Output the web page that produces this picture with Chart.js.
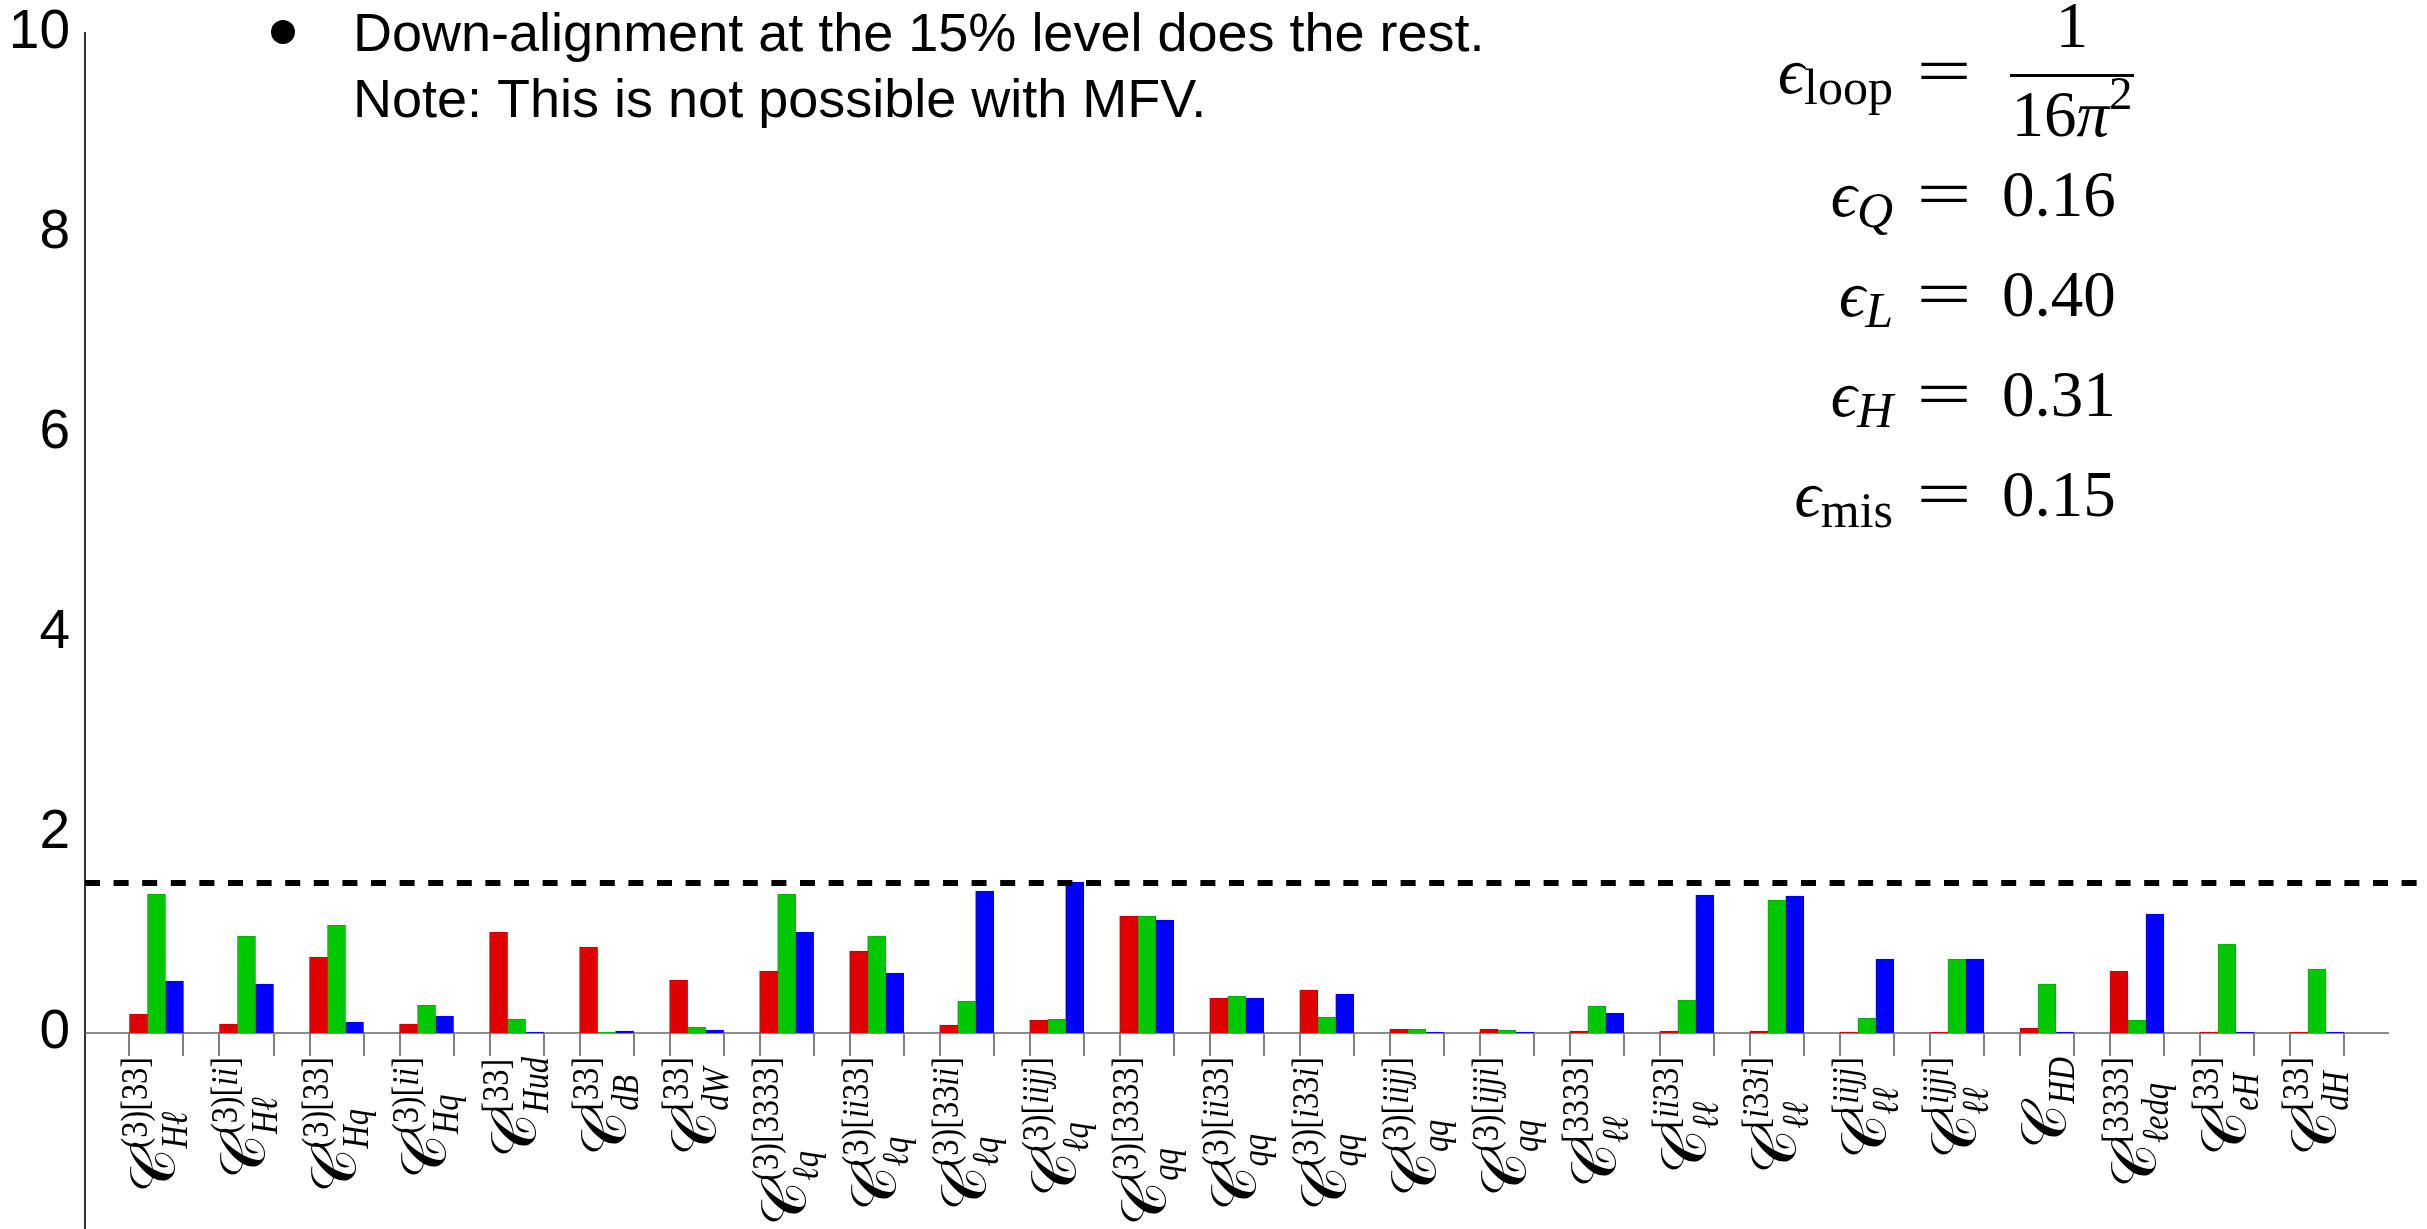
<!DOCTYPE html>
<html>
<head>
<meta charset="utf-8">
<script src="https://cdn.jsdelivr.net/npm/chart.js@4.4.1/dist/chart.umd.min.js"></script>
<style>
    html, body { margin: 0; padding: 0; background: #fff; overflow: hidden; }
    #wrap { position: relative; width: 2427px; height: 1229px; overflow: hidden; }
    #myChart { position: absolute; left: 0; top: 0; }
</style>
</head>
<body>
<div id="wrap"><canvas id="myChart" width="2427" height="1233"></canvas></div>
<script>
// operator labels: superscript and subscript of each C
const categorySup = ['(3)[33]', '(3)[ii]', '(3)[33]', '(3)[ii]', '[33]', '[33]', '[33]',
    '(3)[3333]', '(3)[ii33]', '(3)[33ii]', '(3)[iijj]', '(3)[3333]', '(3)[ii33]', '(3)[i33i]',
    '(3)[iijj]', '(3)[ijji]', '[3333]', '[ii33]', '[i33i]', '[iijj]', '[ijji]', '', '[3333]', '[33]', '[33]'];
const categorySub = ['Hℓ', 'Hℓ', 'Hq', 'Hq', 'Hud', 'dB', 'dW', 'ℓq', 'ℓq', 'ℓq', 'ℓq',
    'qq', 'qq', 'qq', 'qq', 'qq', 'ℓℓ', 'ℓℓ', 'ℓℓ', 'ℓℓ', 'ℓℓ', 'HD', 'ℓedq', 'eH', 'dH'];

let seriesRed = [0.19, 0.09, 0.76, 0.09, 1.01, 0.86, 0.53, 0.62, 0.82, 0.08, 0.13, 1.17, 0.35,
    0.43, 0.04, 0.04, 0.02, 0.02, 0.02, 0.01, 0.01, 0.05, 0.62, 0.01, 0.01];
let seriesGreen = [1.39, 0.97, 1.08, 0.28, 0.14, 0.01, 0.06, 1.39, 0.97, 0.32, 0.14, 1.17, 0.37,
    0.16, 0.04, 0.03, 0.27, 0.33, 1.33, 0.15, 0.74, 0.49, 0.13, 0.89, 0.64];
let seriesBlue = [0.52, 0.49, 0.11, 0.17, 0.01, 0.02, 0.03, 1.01, 0.60, 1.42, 1.51, 1.13, 0.35,
    0.39, 0.01, 0.01, 0.20, 1.38, 1.37, 0.74, 0.74, 0.01, 1.19, 0.01, 0.01];

const yTicks = [0, 2, 4, 6, 8, 10];
const cutLine = 1.5;

const noteLines = ['Down-alignment at the 15% level does the rest.', 'Note: This is not possible with MFV.'];
const epsRows = [['Q', '0.16'], ['L', '0.40'], ['H', '0.31'], ['mis', '0.15']];

const serif = "'Liberation Serif', 'DejaVu Serif', serif";
const sans = "'Liberation Sans', Arial, sans-serif";
const scriptSize = 38;
const squeeze = 0.85;   // script glyphs are set a little narrower

function fontFor(ch, size) {
    return (/[A-Za-zℓ]/.test(ch) ? 'italic ' : '') + size + 'px ' + serif;
}
function runWidth(c, str, size) {
    let w = 0;
    for (const ch of str) { c.font = fontFor(ch, size); w += c.measureText(ch).width * squeeze; }
    return w;
}
function drawRun(c, str, x, y, size) {
    for (const ch of str) {
        c.font = fontFor(ch, size);
        c.save();
        c.translate(x, y);
        c.scale(squeeze, 1);
        c.fillText(ch, 0, 0);
        c.restore();
        x += c.measureText(ch).width * squeeze;
    }
    return x;
}

// zero line, group ticks, dashed cut and the rotated operator names
const axisPlugin = {
    id: 'axisPlugin',
    beforeDatasetsDraw(chart) {
        const c = chart.ctx, xs = chart.scales.x, ys = chart.scales.y, a = chart.chartArea;
        const y0 = ys.getPixelForValue(0);
        c.save();
        c.strokeStyle = '#666';
        c.lineWidth = 1.5;
        c.beginPath(); c.moveTo(a.left, y0); c.lineTo(a.right, y0); c.stroke();
        c.strokeStyle = '#808080';
        c.lineWidth = 2;
        categorySub.forEach((s, i) => {
            [i - 0.3, i + 0.3].forEach(v => {
                const px = Math.round(xs.getPixelForValue(v));
                c.beginPath(); c.moveTo(px, y0); c.lineTo(px, y0 + 23); c.stroke();
            });
        });
        c.restore();
    },
    afterDatasetsDraw(chart) {
        const c = chart.ctx, xs = chart.scales.x, ys = chart.scales.y, a = chart.chartArea;
        const yc = ys.getPixelForValue(cutLine);
        c.save();
        c.strokeStyle = '#000';
        c.lineWidth = 6;
        c.setLineDash([15, 13.6]);
        c.beginPath(); c.moveTo(a.left, yc); c.lineTo(chart.width - 4, yc); c.stroke();
        c.restore();

        const y0 = ys.getPixelForValue(0);
        const mainFont = "62px 'DejaVu Serif', serif";
        c.save();
        c.fillStyle = '#000';
        c.textBaseline = 'alphabetic';
        categorySub.forEach((sub, i) => {
            const sup = categorySup[i];
            const cx = xs.getPixelForValue(i);
            c.font = mainFont;
            const wC = c.measureText('𝒞').width;
            const total = wC + Math.max(runWidth(c, sup, scriptSize), runWidth(c, sub, scriptSize));
            c.save();
            c.translate(cx, y0 + 24);
            c.rotate(-Math.PI / 2);
            const x0 = -total, base = 18;
            c.font = mainFont;
            c.fillText('𝒞', x0, base);
            if (sup) drawRun(c, sup, x0 + wC, base - 27, scriptSize);
            drawRun(c, sub, x0 + wC, base + (sup ? 13 : 9), scriptSize);
            c.restore();
        });
        c.restore();
    }
};

// bullet note at the top and the parameter list on the right
const notesPlugin = {
    id: 'notesPlugin',
    afterDraw(chart) {
        const c = chart.ctx;
        c.save();
        c.fillStyle = '#000';
        c.beginPath(); c.arc(283, 32, 12, 0, Math.PI * 2); c.fill();
        c.font = '54px ' + sans;
        c.textAlign = 'left';
        c.fillText(noteLines[0], 353, 51);
        c.fillText(noteLines[1], 353, 117);

        const right = 1893, eqX = 1944, valX = 2002;
        const drawEqual = (y) => {
            c.save();
            c.font = '65px ' + serif;
            c.textAlign = 'center';
            c.translate(eqX, y);
            c.scale(1.5, 1);
            c.fillText('=', 0, 0);
            c.restore();
        };
        const drawLhs = (sub, y) => {
            const subFont = (/^[A-Z]$/.test(sub) ? 'italic ' : '') + '50px ' + serif;
            c.font = subFont;
            const ws = c.measureText(sub).width;
            c.font = 'italic 65px ' + serif;
            const we = c.measureText('ϵ').width;
            c.textAlign = 'left';
            c.fillText('ϵ', right - ws - we, y);
            c.font = subFont;
            c.fillText(sub, right - ws, y + 11);
        };

        // loop factor as a fraction
        drawLhs('loop', 93);
        drawEqual(93);
        c.fillRect(2010, 74, 124, 3);
        c.font = '65px ' + serif;
        c.textAlign = 'center';
        c.fillText('1', 2072, 47);
        const w16 = c.measureText('16').width;
        c.font = 'italic 65px ' + serif;
        const wPi = c.measureText('π').width;
        c.font = '47px ' + serif;
        const w2 = c.measureText('2').width;
        let x = 2072 - (w16 + wPi + w2) / 2;
        c.textAlign = 'left';
        c.font = '65px ' + serif; c.fillText('16', x, 136); x += w16;
        c.font = 'italic 65px ' + serif; c.fillText('π', x, 136); x += wPi;
        c.font = '47px ' + serif; c.fillText('2', x, 109);

        epsRows.forEach((r, i) => {
            const y = 216 + i * 100;
            drawLhs(r[0], y);
            drawEqual(y);
            c.font = '65px ' + serif;
            c.textAlign = 'left';
            c.fillText(r[1], valX, y);
        });
        c.restore();
    }
};

function toPoints(arr) {
    return arr.map((v, i) => ({ x: i, y: v }));
}

let ctx = document.getElementById('myChart').getContext('2d');
let myChart = new Chart(ctx, {
    type: 'bar',
    data: {
        datasets: [{
            label: 'red',
            data: toPoints(seriesRed),
            backgroundColor: '#e00000',
            borderColor: '#c20000',
            borderWidth: 1,
        }, {
            label: 'green',
            data: toPoints(seriesGreen),
            backgroundColor: '#00c800',
            borderColor: '#00ab00',
            borderWidth: 1,
        }, {
            label: 'blue',
            data: toPoints(seriesBlue),
            backgroundColor: '#0000ff',
            borderColor: '#0000dc',
            borderWidth: 1,
        }]
    },
    options: {
        responsive: false,
        animation: false,
        devicePixelRatio: 1,
        layout: { padding: { top: 33, right: 38, left: 0, bottom: 0 } },
        datasets: { bar: { barThickness: 18 } },
        scales: {
            x: { type: 'linear', offset: false, min: -0.794, max: 24.8, display: false },
            y: {
                min: -2,
                max: 10,
                afterBuildTicks: (s) => { s.ticks = yTicks.map(v => ({ value: v })); },
                afterFit: (s) => { s.width = 85; s.paddingTop = 0; s.paddingBottom = 0; },
                grid: { display: false, drawTicks: false },
                border: { display: true, color: '#333', width: 2 },
                ticks: {
                    padding: 15,
                    color: '#000',
                    font: { family: sans, size: 55 }
                }
            }
        },
        plugins: {
            legend: { display: false },
            tooltip: { enabled: false }
        }
    },
    plugins: [axisPlugin, notesPlugin]
});
</script>
</body>
</html>
